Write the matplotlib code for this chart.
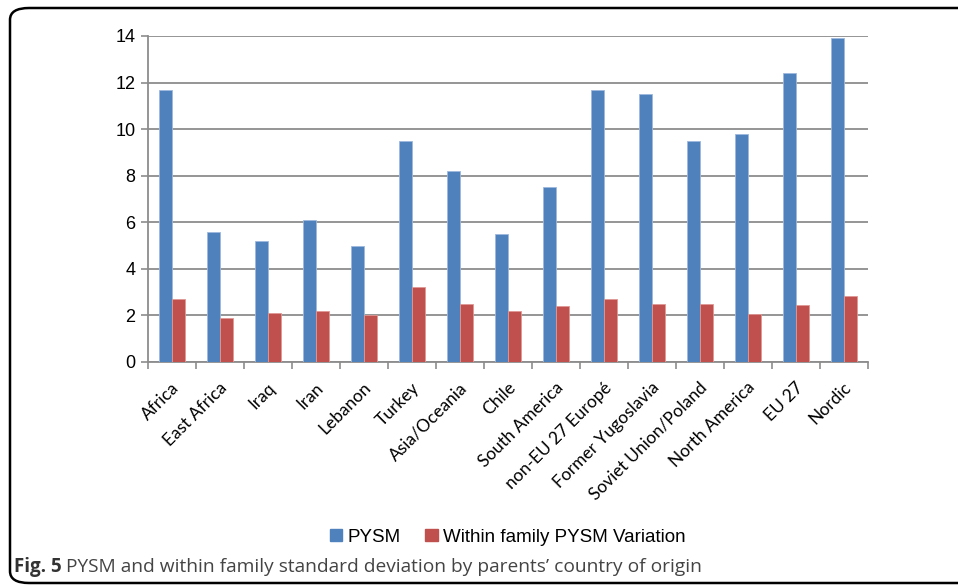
import matplotlib
matplotlib.use('Agg')
import matplotlib.pyplot as plt
import numpy as np
from matplotlib.patches import FancyBboxPatch, Patch

categories = ['Africa', 'East Africa', 'Iraq', 'Iran', 'Lebanon', 'Turkey',
              'Asia/Oceania', 'Chile', 'South America', 'non-EU 27 Europé',
              'Former Yugoslavia', 'Soviet Union/Poland', 'North America',
              'EU 27', 'Nordic']
pysm = [11.7, 5.6, 5.2, 6.1, 5.0, 9.5, 8.2, 5.5, 7.5, 11.7, 11.5, 9.5, 9.8, 12.4, 13.9]
within_var = [2.7, 1.9, 2.1, 2.2, 2.0, 3.2, 2.5, 2.2, 2.4, 2.7, 2.5, 2.5, 2.05, 2.45, 2.85]
y_ticks = [0, 2, 4, 6, 8, 10, 12, 14]

BLUE = '#4F81BD'
RED = '#C0504D'
GRID = '#8C8C8C'

fig = plt.figure(figsize=(9.58, 5.87), dpi=100)
ax = fig.add_axes([148 / 958, 1 - 362 / 587, 720 / 958, 326 / 587])

x = np.arange(len(categories))
w = 0.28
ax.bar(x - w / 2, pysm, w, color=BLUE, edgecolor='#9DB9DD', linewidth=0.6, zorder=3)
ax.bar(x + w / 2, within_var, w, color=RED, edgecolor='#E09896', linewidth=0.6, zorder=3)

ax.set_xlim(-0.5, len(categories) - 0.5)
ax.set_ylim(0, 14)
ax.set_yticks(y_ticks)
ax.set_yticklabels([str(v) for v in y_ticks], fontsize=13, family='Liberation Sans')
ax.yaxis.grid(True, color=GRID, linewidth=1.3, zorder=0)
ax.tick_params(axis='y', length=5, color=GRID, width=1.2, pad=4)

# category boundary ticks below the axis
ax.set_xticks(np.arange(-0.5, len(categories)), minor=False)
ax.set_xticklabels([])
ax.tick_params(axis='x', length=5, color=GRID, width=1.2, direction='out')
for xi, lab in zip(x, categories):
    ax.text(xi - 0.02, -0.75, lab, rotation=45, ha='right', va='top',
            rotation_mode='anchor', fontsize=12.5, family='Lato', color='black')

for s in ['top', 'right']:
    ax.spines[s].set_visible(False)
for s in ['left', 'bottom']:
    ax.spines[s].set_color(GRID)
    ax.spines[s].set_linewidth(1.3)

handles = [Patch(color=BLUE, label='PYSM'),
           Patch(color=RED, label='Within family PYSM Variation')]
fig.legend(handles=handles, loc='center', bbox_to_anchor=(508 / 958, 1 - 537 / 587),
           ncol=2, frameon=False, handlelength=0.65, handleheight=0.65,
           handletextpad=0.3, columnspacing=1.3,
           prop={'family': 'Liberation Sans', 'size': 13.5})

# caption
fig.text(14 / 958, 1 - 567 / 587, 'Fig. 5', fontsize=13.5, fontweight='bold',
         family='Open Sans', color='#333333', va='center')
fig.text(66 / 958, 1 - 567 / 587,
         'PYSM and within family standard deviation by parents\u2019 country of origin',
         fontsize=13.8, family='Open Sans', color='#444444', va='center')

# rounded frame
frame = FancyBboxPatch((10 / 958, 4 / 587), 1.1, 1 - 12 / 587,
                       boxstyle='round,pad=0,rounding_size=0.02',
                       transform=fig.transFigure, fill=False,
                       edgecolor='black', linewidth=1.8, clip_on=False)
fig.patches.append(frame)

fig.savefig('out.png', dpi=100)
